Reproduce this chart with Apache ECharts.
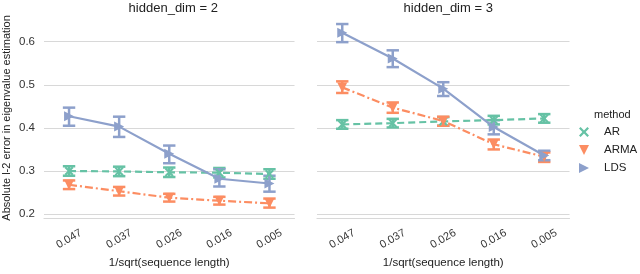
<!DOCTYPE html>
<html><head><meta charset="utf-8">
<script src="https://cdn.jsdelivr.net/npm/echarts@6/dist/echarts.min.js"></script>
<style>html,body{margin:0;padding:0;background:#fff}#c{width:640px;height:274px}</style>
</head><body><div id="c"></div>
<script>
const categories = ['0.047','0.037','0.026','0.016','0.005'];
const yTicks = [0.2,0.3,0.4,0.5,0.6];
// hidden_dim = 2
const d2_AR = [0.300,0.299,0.297,0.296,0.293];
const d2_AR_lo = [0.289,0.288,0.286,0.285,0.282];
const d2_AR_hi = [0.311,0.310,0.308,0.307,0.304];
const d2_ARMA = [0.268,0.253,0.238,0.231,0.225];
const d2_ARMA_lo = [0.258,0.243,0.229,0.222,0.215];
const d2_ARMA_hi = [0.278,0.263,0.247,0.240,0.236];
const d2_LDS = [0.427,0.403,0.340,0.282,0.271];
const d2_LDS_lo = [0.405,0.379,0.318,0.264,0.252];
const d2_LDS_hi = [0.447,0.426,0.359,0.304,0.289];
// hidden_dim = 3
const d3_AR = [0.408,0.411,0.415,0.418,0.422];
const d3_AR_lo = [0.398,0.401,0.405,0.408,0.412];
const d3_AR_hi = [0.418,0.421,0.425,0.428,0.432];
const d3_ARMA = [0.494,0.447,0.416,0.362,0.333];
const d3_ARMA_lo = [0.481,0.435,0.405,0.350,0.321];
const d3_ARMA_hi = [0.508,0.459,0.426,0.373,0.343];
const d3_LDS = [0.621,0.561,0.491,0.402,0.336];
const d3_LDS_lo = [0.599,0.541,0.474,0.385,0.325];
const d3_LDS_hi = [0.641,0.580,0.506,0.418,0.347];

const COLORS = {AR:'#66c2a5', ARMA:'#fc8d62', LDS:'#8da0cb'};
const SYM = {
  AR:'path://M0,1.6L1.6,0L5,3.4L8.4,0L10,1.6L6.6,5L10,8.4L8.4,10L5,6.6L1.6,10L0,8.4L3.4,5Z',
  ARMA:'path://M0,0L10,0L5,10Z',
  LDS:'path://M0,0L10,5L0,10Z'
};
const DASH = {AR:[7,4], ARMA:[8,3,2,3], LDS:'solid'};
const FONT = 'Liberation Sans, Arial, sans-serif';
const GRID_COLOR = '#d8d8d8';

const panels = [
  {title:'hidden_dim = 2', left:42, data:{AR:[d2_AR,d2_AR_lo,d2_AR_hi],ARMA:[d2_ARMA,d2_ARMA_lo,d2_ARMA_hi],LDS:[d2_LDS,d2_LDS_lo,d2_LDS_hi]}},
  {title:'hidden_dim = 3', left:317, data:{AR:[d3_AR,d3_AR_lo,d3_AR_hi],ARMA:[d3_ARMA,d3_ARMA_lo,d3_ARMA_hi],LDS:[d3_LDS,d3_LDS_lo,d3_LDS_hi]}}
];
const GW = 252.5, GT = 18, GH = 207.7;

const grids=[], xAxes=[], yAxes=[], series=[], titles=[];
panels.forEach((p,i)=>{
  grids.push({left:p.left, top:GT, width:GW, height:GH});
  titles.push({text:p.title, left:p.left+GW/2, top:-3, textAlign:'center',
    textStyle:{fontFamily:FONT, fontSize:13, fontWeight:'normal', color:'#222'}});
  xAxes.push({type:'category', gridIndex:i, data:categories, boundaryGap:true,
    axisLine:{show:true, lineStyle:{color:GRID_COLOR, width:1.2}},
    axisTick:{show:false},
    axisLabel:{rotate:30, align:'center', verticalAlign:'middle', margin:21, fontFamily:FONT, fontSize:11, color:'#333'},
    name:'1/sqrt(sequence length)', nameLocation:'middle', nameGap:37,
    nameTextStyle:{fontFamily:FONT, fontSize:11.5, color:'#222'}});
  yAxes.push({type:'value', gridIndex:i, min:0.191, max:0.655,
    axisLine:{show:false}, axisTick:{show:false, customValues:yTicks},
    axisLabel:{show:i===0, customValues:yTicks, formatter:v=>v.toFixed(1), margin:9, fontFamily:FONT, fontSize:11.5, color:'#333'},
    splitLine:{show:true, customValues:yTicks, lineStyle:{color:GRID_COLOR, width:1.2}},
    name: i===0 ? 'Absolute l-2 error in eigenvalue estimation' : '',
    nameLocation:'middle', nameGap:32,
    nameTextStyle:{fontFamily:FONT, fontSize:11, color:'#222'}});
  ['AR','ARMA','LDS'].forEach(m=>{
    const [v,lo,hi] = p.data[m];
    series.push({type:'custom', xAxisIndex:i, yAxisIndex:i, silent:true, z:3,
      data: categories.map((c,k)=>[k, lo[k], hi[k]]),
      encode:{x:0, y:[1,2]},
      renderItem:(params, api)=>{
        const a = api.coord([api.value(0), api.value(1)]);
        const b = api.coord([api.value(0), api.value(2)]);
        const w = 6.2;
        const st = {stroke:COLORS[m], lineWidth:2.5};
        return {type:'group', children:[
          {type:'line', shape:{x1:a[0],y1:a[1],x2:b[0],y2:b[1]}, style:st},
          {type:'line', shape:{x1:a[0]-w,y1:a[1],x2:a[0]+w,y2:a[1]}, style:st},
          {type:'line', shape:{x1:b[0]-w,y1:b[1],x2:b[0]+w,y2:b[1]}, style:st}
        ]};
      }});
    series.push({type:'line', name:m, xAxisIndex:i, yAxisIndex:i, data:v, z:4,
      symbol:SYM[m], symbolSize: m==='AR'?9:10, showSymbol:true,
      lineStyle:{color:COLORS[m], width:2.2, type:DASH[m]},
      itemStyle:{color:COLORS[m]}, animation:false});
  });
});
titles.push({text:'method', left:589, top:104, textStyle:{fontFamily:FONT, fontSize:11, fontWeight:'normal', color:'#222'}});

const chart = echarts.init(document.getElementById('c'), null, {renderer:'canvas'});
chart.setOption({
  animation:false,
  title:titles, grid:grids, xAxis:xAxes, yAxis:yAxes, series:series,
  legend:{orient:'vertical', left:574, top:121, itemWidth:26, itemHeight:10, itemGap:6,
    textStyle:{fontFamily:FONT, fontSize:11.5, color:'#222', padding:[0,0,0,2]},
    data:['AR','ARMA','LDS'].map(m=>({name:m, icon:SYM[m], itemStyle:{color:COLORS[m]}}))}
});
</script></body></html>
